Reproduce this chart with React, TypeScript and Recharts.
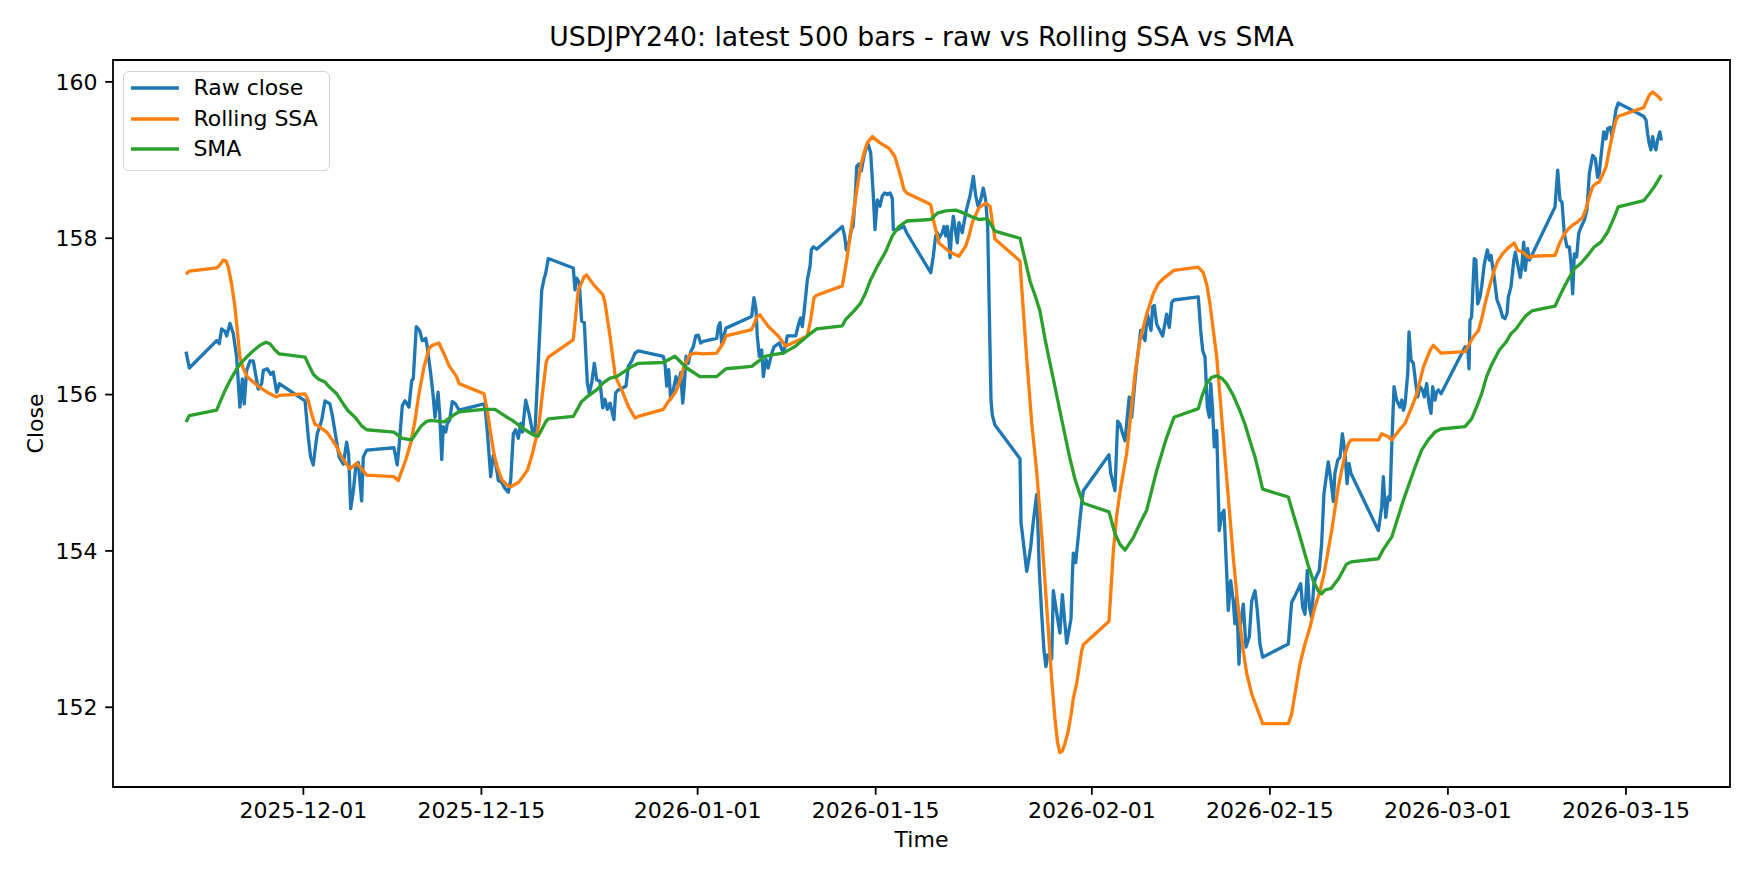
import { LineChart, Line, XAxis, YAxis, Legend, ReferenceArea } from "recharts"

// x values are days since 2025-12-01 00:00 (4h bars, weekends left as straight joins)
const tickDays = [0, 14, 31, 45, 62, 76, 90, 104]
const tickLabels = [
  "2025-12-01", "2025-12-15", "2026-01-01", "2026-01-15",
  "2026-02-01", "2026-02-15", "2026-03-01", "2026-03-15",
]
const closeTicks = [152, 154, 156, 158, 160]

const rawDays = [
  -9.45, -9.19, -7.04, -6.83, -6.65, -6.39, -6.25, -5.99, -5.73, -5.47,
  -5.21, -5.02, -4.87, -4.68, -4.42, -4.16, -3.77, -3.5, -3.37, -3.06,
  -2.79, -2.59, -2.32, -2.11, -0.09, 0.17, 0.35, 0.56, 0.69, 0.87,
  1.22, 1.48, 1.87, 2.08, 2.34, 2.6, 2.92, 3.18, 3.34, 3.5,
  3.71, 3.92, 4.1, 4.36, 4.49, 4.76, 6.9, 7.16, 7.3, 7.56,
  7.77, 8.08, 8.3, 8.42, 8.66, 8.92, 9.13, 9.4, 9.52, 9.79,
  9.97, 10.13, 10.37, 10.5, 10.66, 10.78, 10.97, 11.1, 11.28, 11.49,
  11.75, 12.02, 13.98, 14.11, 14.32, 14.51, 14.71, 14.9, 15.11, 15.37,
  15.63, 15.89, 16.08, 16.29, 16.47, 16.68, 16.87, 17.0, 17.26, 17.52,
  17.78, 17.99, 18.31, 18.52, 18.7, 18.83, 19.04, 21.0, 21.14, 21.27,
  21.48, 21.66, 21.87, 22.0, 22.11, 22.26, 22.45, 22.66, 22.84, 23.1,
  23.32, 23.5, 23.68, 23.89, 24.2, 24.33, 24.54, 24.73, 25.15, 25.33,
  25.6, 25.86, 26.12, 28.08, 28.21, 28.35, 28.51, 28.66, 28.87, 29.08,
  29.26, 29.45, 29.61, 29.73, 29.87, 30.05, 30.24, 30.44, 30.63, 30.83,
  31.02, 31.23, 32.28, 32.41, 32.54, 32.67, 32.8, 33.01, 35.03, 35.21,
  35.37, 35.47, 35.63, 35.82, 35.95, 36.16, 36.34, 36.61, 36.79, 37.2,
  37.52, 37.73, 37.83, 38.49, 38.75, 38.88, 39.01, 39.14, 39.33, 39.41,
  39.62, 39.72, 39.88, 40.14, 42.16, 42.34, 42.47, 42.68, 42.87, 43.0,
  43.21, 43.29, 43.47, 43.65, 43.86, 44.08, 44.2, 44.39, 44.57, 44.73,
  44.91, 45.12, 45.3, 45.49, 45.7, 45.91, 46.09, 46.17, 46.48, 46.75,
  47.01, 47.22, 49.11, 49.31, 49.5, 49.63, 49.76, 50.02, 50.16, 50.29,
  50.42, 50.55, 50.63, 50.76, 50.89, 51.07, 51.2, 51.33, 51.59, 51.73,
  51.86, 51.99, 52.2, 52.46, 52.65, 52.83, 53.04, 53.24, 53.43, 53.59,
  53.85, 53.95, 54.16, 56.13, 56.21, 56.31, 56.66, 56.78, 56.97, 57.18,
  57.44, 57.52, 57.65, 57.84, 58.02, 58.17, 58.31, 58.62, 58.75, 59.09,
  59.27, 59.46, 59.8, 60.14, 60.24, 60.32, 60.51, 60.85, 60.98, 61.11,
  63.13, 63.26, 63.6, 63.73, 63.81, 63.99, 64.2, 64.39, 64.72, 64.91,
  65.25, 65.62, 65.96, 66.14, 66.43, 66.56, 66.69, 66.88, 67.35, 67.66,
  67.87, 68.06, 68.24, 70.15, 70.34, 70.5, 70.68, 70.86, 71.02, 71.13,
  71.28, 71.41, 71.6, 71.8, 71.99, 72.17, 72.33, 72.51, 72.7, 72.9,
  73.03, 73.17, 73.35, 73.48, 73.69, 73.9, 74.16, 74.35, 74.61, 74.79,
  75.0, 75.21, 77.23, 77.49, 77.83, 78.2, 78.36, 78.54, 78.72, 78.89,
  79.06, 79.24, 79.4, 79.66, 79.85, 80.03, 80.37, 80.58, 80.77, 80.89,
  81.11, 81.3, 81.48, 81.69, 81.85, 82.0, 82.16, 84.31, 84.57, 84.7,
  84.89, 85.09, 85.22, 85.36, 85.54, 85.75, 85.88, 86.02, 86.15, 86.28,
  86.41, 86.62, 86.72, 86.88, 87.06, 87.25, 87.4, 87.58, 87.77, 87.92,
  88.11, 88.29, 88.45, 88.58, 88.76, 88.89, 89.02, 89.24, 91.12, 91.33,
  91.44, 91.51, 91.64, 91.85, 91.98, 92.12, 92.3, 92.43, 92.64, 92.88,
  93.04, 93.17, 93.3, 93.42, 93.64, 93.9, 94.09, 94.27, 94.43, 94.53,
  94.74, 94.96, 95.08, 95.26, 95.47, 95.58, 95.74, 95.86, 96.05, 96.18,
  96.37, 98.2, 98.41, 98.59, 98.75, 98.93, 99.14, 99.33, 99.46, 99.59,
  99.72, 99.9, 100.06, 100.24, 100.5, 100.71, 100.9, 101.16, 101.37, 101.55,
  101.68, 101.81, 102.03, 102.21, 102.34, 102.55, 102.68, 102.81, 102.99, 103.17,
  105.17, 105.36, 105.48, 105.61, 105.74, 105.88, 106.0, 106.13, 106.26, 106.44, 106.57,
]
const rawClose = [
  156.55, 156.34, 156.69, 156.65, 156.84, 156.81, 156.75, 156.91, 156.78, 156.48,
  155.84, 156.2, 155.88, 156.31, 156.43, 156.43, 156.07, 156.14, 156.31, 156.33,
  156.26, 156.29, 156.03, 156.14, 155.92, 155.45, 155.2, 155.1, 155.28, 155.5,
  155.67, 155.92, 155.88, 155.71, 155.45, 155.2, 155.11, 155.39, 155.24, 154.54,
  154.77, 155.11, 155.13, 154.64, 155.2, 155.29, 155.32, 155.1, 155.33, 155.86,
  155.92, 155.84, 156.18, 156.2, 156.87, 156.82, 156.69, 156.72, 156.61, 156.27,
  156.01, 155.71, 156.03, 155.76, 155.17, 155.59, 155.52, 155.63, 155.67, 155.91,
  155.88, 155.8, 155.88, 155.78, 155.37, 154.95, 155.22, 155.12, 154.9, 154.88,
  154.8, 154.75, 154.9, 155.5, 155.55, 155.44, 155.63, 155.52, 155.93, 155.76,
  155.54, 155.52, 156.61, 157.33, 157.48, 157.55, 157.74, 157.62, 157.34, 157.49,
  157.43, 156.94, 156.92, 156.49, 156.15, 156.02, 156.15, 156.4, 156.19, 156.17,
  155.83, 155.94, 155.81, 155.89, 155.68, 156.02, 156.06, 156.07, 156.11, 156.36,
  156.43, 156.53, 156.56, 156.49, 156.4, 156.11, 156.32, 155.94, 156.06, 156.23,
  156.11, 156.28, 155.89, 156.11, 156.49, 156.4, 156.55, 156.61, 156.75, 156.76,
  156.66, 156.68, 156.72, 156.87, 156.92, 156.66, 156.72, 156.85, 157.0, 157.24,
  157.09, 156.75, 156.49, 156.57, 156.23, 156.45, 156.34, 156.53, 156.61, 156.66,
  156.53, 156.66, 156.75, 156.75, 156.92, 156.98, 156.87, 157.04, 157.34, 157.47,
  157.64, 157.85, 157.89, 157.86, 158.15, 158.03, 157.85, 157.94, 158.11, 158.15,
  158.62, 158.92, 158.95, 158.86, 159.05, 159.18, 159.2, 159.09, 158.62, 158.11,
  158.49, 158.41, 158.54, 158.58, 158.56, 158.58, 158.51, 158.11, 158.11, 158.13,
  158.15, 158.07, 157.56, 157.77, 158.03, 158.07, 158.0, 158.07, 158.15, 158.03,
  158.15, 157.98, 157.75, 158.11, 158.28, 158.07, 157.94, 158.2, 158.07, 158.2,
  158.32, 158.41, 158.54, 158.79, 158.54, 158.41, 158.49, 158.64, 158.49, 158.14,
  155.94, 155.74, 155.61, 155.18, 154.36, 154.23, 153.74, 153.85, 154.05, 154.38,
  154.72, 154.41, 153.74, 153.18, 152.72, 152.52, 152.67, 152.62, 153.49, 153.13,
  152.95, 153.44, 152.82, 153.13, 153.64, 153.97, 153.85, 154.41, 154.61, 154.77,
  155.23, 155.0, 154.77, 155.33, 155.66, 155.62, 155.5, 155.41, 155.97, 155.71,
  156.31, 156.82, 156.69, 157.03, 156.82, 157.12, 157.14, 156.9, 156.75, 157.03,
  156.86, 157.18, 157.21, 157.25, 156.82, 156.56, 156.48, 155.84, 155.71, 156.14,
  155.79, 155.33, 155.54, 154.26, 154.47, 154.52, 153.92, 153.24, 153.62, 153.36,
  153.07, 153.41, 152.55, 153.07, 153.32, 152.77, 152.9, 153.36, 153.49, 153.24,
  152.81, 152.64, 152.81, 153.34, 153.45, 153.58, 153.28, 153.19, 153.75, 153.28,
  153.15, 153.58, 153.66, 153.75, 154.09, 154.73, 155.14, 154.9, 154.63, 154.99,
  155.16, 155.2, 155.5, 155.24, 154.86, 155.12, 154.99, 154.26, 154.56, 154.95,
  154.43, 154.69, 154.65, 155.33, 156.1, 155.93, 155.88, 155.84, 155.93, 155.8,
  155.88, 156.27, 156.8, 156.44, 156.4, 156.14, 155.97, 156.1, 156.06, 155.97,
  156.14, 155.88, 155.76, 156.1, 155.93, 156.03, 156.06, 156.01, 156.61, 156.61,
  156.33, 156.95, 156.99, 157.74, 157.72, 157.16, 157.25, 157.38, 157.67, 157.85,
  157.72, 157.78, 157.63, 157.5, 157.21, 157.1, 156.99, 156.97, 157.04, 157.25,
  157.38, 157.72, 157.82, 157.67, 157.5, 157.63, 157.95, 157.59, 157.87, 157.72,
  157.78, 158.4, 158.87, 158.49, 158.46, 158.06, 157.89, 157.89, 157.67, 157.29,
  157.8, 157.76, 158.06, 158.14, 158.23, 158.36, 158.83, 159.06, 159.02, 158.78,
  158.83, 159.04, 159.36, 159.27, 159.4, 159.42, 159.3, 159.44, 159.64, 159.73,
  159.56, 159.51, 159.34, 159.21, 159.13, 159.3, 159.19, 159.13, 159.25, 159.36, 159.25,
]

const ssaDays = [
  -9.45, -9.19, -7.04, -6.83, -6.52, -6.31, -6.12, -5.86, -5.6, -5.39,
  -5.21, -4.99, -4.6, -4.16, -3.63, -2.85, -2.32, -2.11, -0.09, 0.17,
  0.43, 0.69, 0.95, 1.61, 2.01, 2.4, 2.79, 3.18, 3.44, 3.97,
  4.36, 4.76, 6.9, 7.24, 7.82, 8.21, 8.56, 8.87, 9.26, 9.66,
  9.92, 10.44, 10.84, 11.23, 11.83, 12.02, 13.98, 14.24, 14.51, 14.77,
  15.03, 15.42, 15.81, 16.08, 16.73, 17.39, 17.78, 18.05, 18.31, 18.52,
  18.7, 18.88, 19.04, 21.0, 21.14, 21.4, 21.87, 22.05, 22.58, 23.32,
  23.5, 23.89, 24.1, 24.31, 24.81, 25.33, 25.86, 26.12, 28.08, 28.47,
  29.0, 29.26, 29.73, 30.18, 30.57, 31.23, 32.28, 32.8, 33.01, 35.03,
  35.47, 35.68, 36.34, 37.12, 37.52, 37.73, 38.49, 39.41, 39.67, 39.93,
  40.14, 42.16, 42.34, 42.55, 42.81, 43.08, 43.34, 43.6, 43.86, 44.12,
  44.52, 45.12, 45.83, 46.28, 46.75, 47.01, 47.22, 49.11, 49.37, 49.76,
  50.55, 51.07, 51.33, 51.86, 52.12, 52.38, 52.9, 53.43, 53.77, 54.16,
  56.13, 56.26, 56.66, 57.05, 57.44, 57.84, 58.1, 58.36, 58.62, 58.88,
  59.09, 59.27, 59.46, 59.67, 59.93, 60.14, 60.32, 60.59, 60.98, 61.11,
  63.13, 63.47, 63.73, 63.99, 64.52, 65.17, 65.56, 66.09, 66.61, 67.01,
  67.53, 68.24, 70.15, 70.54, 70.81, 71.07, 71.33, 71.6, 71.86, 72.12,
  72.38, 72.64, 72.9, 73.17, 73.43, 73.69, 73.96, 74.35, 74.74, 75.21,
  77.23, 77.49, 77.75, 78.14, 78.54, 78.93, 79.32, 79.72, 80.03, 80.64,
  81.16, 81.69, 81.95, 82.16, 84.31, 84.57, 85.09, 85.36, 86.02, 86.41,
  86.93, 87.33, 87.85, 88.38, 88.64, 89.24, 91.12, 91.78, 92.18, 92.44,
  92.7, 92.96, 93.42, 93.68, 94.07, 94.47, 94.99, 95.25, 95.65, 96.17,
  96.37, 98.2, 98.54, 98.89, 99.25, 99.59, 99.99, 100.38, 100.64, 100.9,
  101.16, 101.42, 101.68, 102.21, 102.47, 102.74, 102.99, 103.17, 105.17, 105.61,
  105.88, 106.4, 106.57,
]
const ssaValues = [
  157.54, 157.58, 157.62, 157.65, 157.72, 157.71, 157.63, 157.41, 157.12, 156.78,
  156.48, 156.35, 156.22, 156.16, 156.09, 156.01, 155.97, 155.99, 156.01, 155.92,
  155.75, 155.62, 155.6, 155.52, 155.43, 155.33, 155.2, 155.11, 155.05, 155.12,
  155.05, 154.97, 154.95, 154.9, 155.16, 155.37, 155.67, 156.01, 156.35, 156.59,
  156.63, 156.66, 156.52, 156.37, 156.23, 156.14, 156.01, 155.8, 155.5, 155.24,
  155.07, 154.9, 154.84, 154.82, 154.88, 155.03, 155.24, 155.42, 155.63, 155.93,
  156.18, 156.42, 156.48, 156.7, 156.92, 157.34, 157.51, 157.53, 157.41, 157.28,
  157.17, 156.75, 156.49, 156.23, 156.06, 155.85, 155.7, 155.72, 155.81, 155.91,
  156.02, 156.11, 156.37, 156.51, 156.53, 156.52, 156.53, 156.66, 156.75, 156.83,
  157.0, 157.02, 156.87, 156.75, 156.66, 156.62, 156.68, 156.75, 156.96, 157.24,
  157.27, 157.39, 157.56, 157.77, 158.07, 158.37, 158.66, 158.92, 159.09, 159.22,
  159.3, 159.22, 159.15, 159.05, 158.79, 158.62, 158.58, 158.43, 158.2, 157.94,
  157.83, 157.79, 157.77, 157.9, 158.03, 158.2, 158.39, 158.45, 158.41, 157.99,
  157.71, 157.38, 156.46, 155.64, 155.02, 154.2, 153.59, 152.98, 152.36, 151.85,
  151.54, 151.42, 151.44, 151.54, 151.7, 151.9, 152.11, 152.31, 152.72, 152.8,
  153.1, 154.0, 154.45, 154.75, 155.25, 156.26, 156.69, 157.03, 157.29, 157.42,
  157.5, 157.59, 157.63, 157.56, 157.41, 157.16, 156.82, 156.48, 155.97, 155.45,
  154.94, 154.43, 153.92, 153.45, 153.07, 152.72, 152.43, 152.17, 152.0, 151.79,
  151.79, 151.91, 152.17, 152.55, 152.81, 153.02, 153.28, 153.49, 153.7, 154.26,
  154.82, 155.24, 155.37, 155.42, 155.42, 155.5, 155.46, 155.42, 155.56, 155.63,
  155.84, 156.01, 156.35, 156.57, 156.63, 156.53, 156.55, 156.74, 156.82, 156.97,
  157.16, 157.33, 157.59, 157.7, 157.8, 157.87, 157.94, 157.85, 157.82, 157.75,
  157.77, 157.78, 157.93, 158.04, 158.12, 158.17, 158.21, 158.27, 158.38, 158.53,
  158.66, 158.7, 158.72, 158.91, 159.13, 159.34, 159.51, 159.56, 159.67, 159.83,
  159.87, 159.8, 159.76,
]

const smaDays = [
  -9.45, -9.19, -7.04, -6.39, -5.99, -5.6, -5.21, -4.68, -4.16, -3.63,
  -3.16, -2.85, -2.45, -2.11, -0.09, 0.17, 0.56, 0.95, 1.48, 1.87,
  2.4, 2.92, 3.31, 3.84, 4.36, 4.76, 6.9, 7.56, 8.29, 9.0,
  9.4, 9.79, 10.84, 11.62, 12.02, 13.98, 14.85, 15.69, 16.21, 17.21,
  17.91, 18.25, 18.83, 19.04, 21.0, 21.66, 22.0, 22.84, 23.36, 23.89,
  24.41, 25.07, 25.6, 26.12, 28.08, 29.0, 29.92, 30.96, 31.23, 32.28,
  33.01, 35.03, 36.08, 36.73, 37.52, 38.49, 39.41, 40.14, 42.16, 42.42,
  43.08, 43.6, 43.99, 44.39, 44.91, 45.57, 46.09, 46.61, 47.22, 49.11,
  49.63, 50.29, 51.07, 51.59, 52.25, 52.9, 53.56, 54.16, 56.13, 56.52,
  56.92, 57.31, 57.7, 58.1, 58.49, 58.88, 59.27, 59.67, 60.06, 60.45,
  60.85, 61.11, 63.13, 63.6, 64.0, 64.39, 65.04, 65.56, 66.09, 66.48,
  66.88, 67.27, 67.66, 68.24, 70.15, 70.42, 70.81, 71.2, 71.6, 71.99,
  72.38, 72.9, 73.43, 73.82, 74.21, 74.61, 74.87, 75.21, 77.23, 77.62,
  78.01, 78.41, 78.8, 79.19, 79.58, 79.85, 80.11, 80.6, 81.2, 81.8,
  82.16, 84.31, 84.7, 85.37, 86.28, 87.19, 87.71, 88.23, 88.76, 89.24,
  91.12, 91.64, 92.03, 92.43, 92.82, 93.21, 93.82, 94.35, 94.74, 95.14,
  95.53, 95.92, 96.37, 98.2, 98.54, 98.93, 99.33, 99.72, 100.24, 100.77,
  101.29, 101.81, 102.34, 102.86, 103.17, 105.17, 105.61, 106.01, 106.57,
]
const smaValues = [
  155.65, 155.73, 155.8, 156.05, 156.18, 156.29, 156.39, 156.48, 156.56, 156.63,
  156.67, 156.65, 156.57, 156.52, 156.48, 156.39, 156.26, 156.2, 156.16, 156.09,
  156.01, 155.88, 155.79, 155.71, 155.6, 155.55, 155.52, 155.44, 155.42, 155.59,
  155.65, 155.67, 155.65, 155.74, 155.78, 155.81, 155.81, 155.72, 155.67, 155.55,
  155.48, 155.47, 155.65, 155.69, 155.72, 155.91, 155.96, 156.06, 156.15, 156.21,
  156.23, 156.3, 156.36, 156.4, 156.41, 156.49, 156.34, 156.23, 156.23, 156.23,
  156.33, 156.36, 156.49, 156.51, 156.53, 156.62, 156.75, 156.84, 156.88, 156.96,
  157.07, 157.17, 157.3, 157.47, 157.64, 157.83, 158.03, 158.15, 158.22, 158.24,
  158.32, 158.35, 158.36, 158.33, 158.28, 158.24, 158.25, 158.09, 158.0, 157.73,
  157.45, 157.27, 157.07, 156.71, 156.4, 156.1, 155.79, 155.48, 155.18, 154.92,
  154.72, 154.61, 154.5, 154.22, 154.08, 154.01, 154.17, 154.35, 154.52, 154.77,
  155.03, 155.24, 155.45, 155.71, 155.82, 155.97, 156.14, 156.22, 156.24, 156.21,
  156.14, 155.99, 155.79, 155.62, 155.41, 155.2, 155.03, 154.79, 154.69, 154.47,
  154.26, 154.03, 153.81, 153.62, 153.49, 153.45, 153.5, 153.52, 153.65, 153.83,
  153.86, 153.9, 154.02, 154.18, 154.65, 155.07, 155.29, 155.42, 155.52, 155.56,
  155.59, 155.69, 155.84, 156.01, 156.23, 156.38, 156.57, 156.67, 156.78, 156.84,
  156.93, 157.01, 157.07, 157.13, 157.25, 157.38, 157.5, 157.61, 157.68, 157.78,
  157.89, 157.95, 158.08, 158.27, 158.4, 158.48, 158.57, 158.66, 158.81,
]

// the day readings above sit ~5h early against the date ticks
const CLOCK_SHIFT = 0.22
const X_DOMAIN: [number, number] = [-14.97, 112.18]
const Y_DOMAIN: [number, number] = [150.98, 160.28]

const BLUE = "#1f77b4"
const ORANGE = "#ff7f0e"
const GREEN = "#2ca02c"
const LW = 3.33

const toRows = (days: number[], vals: number[]) =>
  days.map((d, i) => ({ t: d + CLOCK_SHIFT, v: vals[i] }))
const rawRows = toRows(rawDays, rawClose)
const ssaRows = toRows(ssaDays, ssaValues)
const smaRows = toRows(smaDays, smaValues)

function LegendBox({ payload }: any) {
  return (
    <div
      style={{
        width: 207,
        height: 100,
        boxSizing: "border-box",
        border: "1.8px solid #d4d4d4",
        borderRadius: 6,
        background: "rgba(255,255,255,0.8)",
        paddingTop: 1,
        paddingLeft: 6.6,
      }}
    >
      {(payload ?? []).map((p: any) => (
        <div key={p.value} style={{ display: "flex", alignItems: "center", height: 30.7 }}>
          <svg width={48} height={6} style={{ marginRight: 14.5, flex: "none" }}>
            <line x1={0} x2={48} y1={3} y2={3} stroke={p.color} strokeWidth={LW} />
          </svg>
          <span style={{ fontSize: 22, lineHeight: 1, color: "#000" }}>{p.value}</span>
        </div>
      ))}
    </div>
  )
}

export default function App() {
  return (
    <div
      style={{
        position: "absolute",
        left: 0,
        top: 0,
        width: 1760,
        height: 880,
        background: "#fff",
        fontFamily: "'DejaVu Sans', sans-serif",
      }}
    >
      <LineChart width={1760} height={880} margin={{ top: 60, right: 30, bottom: 0, left: 0 }}>
        <XAxis
          type="number"
          dataKey="t"
          domain={X_DOMAIN}
          allowDataOverflow
          ticks={tickDays}
          interval={0}
          tickFormatter={(d) => tickLabels[tickDays.indexOf(d)] ?? ""}
          height={93}
          tickSize={7.8}
          tickMargin={7.9}
          axisLine={false}
          tickLine={{ stroke: "#000", strokeWidth: 1.8 }}
          tick={{ fill: "#000", fontSize: 22 }}
        />
        <YAxis
          type="number"
          domain={Y_DOMAIN}
          allowDataOverflow
          ticks={closeTicks}
          interval={0}
          width={113}
          tickSize={7.8}
          tickMargin={7.8}
          axisLine={false}
          tickLine={{ stroke: "#000", strokeWidth: 1.8 }}
          tick={{ fill: "#000", fontSize: 22 }}
        />
        <ReferenceArea
          x1={X_DOMAIN[0]}
          x2={X_DOMAIN[1]}
          y1={Y_DOMAIN[0]}
          y2={Y_DOMAIN[1]}
          fill="none"
          stroke="#000"
          strokeWidth={1.8}
          ifOverflow="visible"
        />
        <Line
          data={rawRows}
          dataKey="v"
          name="Raw close"
          type="linear"
          stroke={BLUE}
          strokeWidth={LW}
          strokeLinejoin="round"
          dot={false}
          activeDot={false}
          isAnimationActive={false}
        />
        <Line
          data={ssaRows}
          dataKey="v"
          name="Rolling SSA"
          type="linear"
          stroke={ORANGE}
          strokeWidth={LW}
          strokeLinejoin="round"
          dot={false}
          activeDot={false}
          isAnimationActive={false}
        />
        <Line
          data={smaRows}
          dataKey="v"
          name="SMA"
          type="linear"
          stroke={GREEN}
          strokeWidth={LW}
          strokeLinejoin="round"
          dot={false}
          activeDot={false}
          isAnimationActive={false}
        />
        <Legend
          layout="vertical"
          align="center"
          verticalAlign="middle"
          content={<LegendBox />}
          wrapperStyle={{ left: 123.3, top: 70.7, width: 207, height: 100 }}
        />
      </LineChart>
      <svg
        width={1760}
        height={880}
        style={{ position: "absolute", left: 0, top: 0, pointerEvents: "none" }}
      >
        <text x={921.5} y={46} textAnchor="middle" fontSize={26.7} fill="#000">
          USDJPY240: latest 500 bars - raw vs Rolling SSA vs SMA
        </text>
        <text x={921.5} y={847.3} textAnchor="middle" fontSize={22} fill="#000">
          Time
        </text>
        <text
          x={42.5}
          y={423.5}
          textAnchor="middle"
          fontSize={22}
          fill="#000"
          transform="rotate(-90 42.5 423.5)"
        >
          Close
        </text>
      </svg>
    </div>
  )
}
